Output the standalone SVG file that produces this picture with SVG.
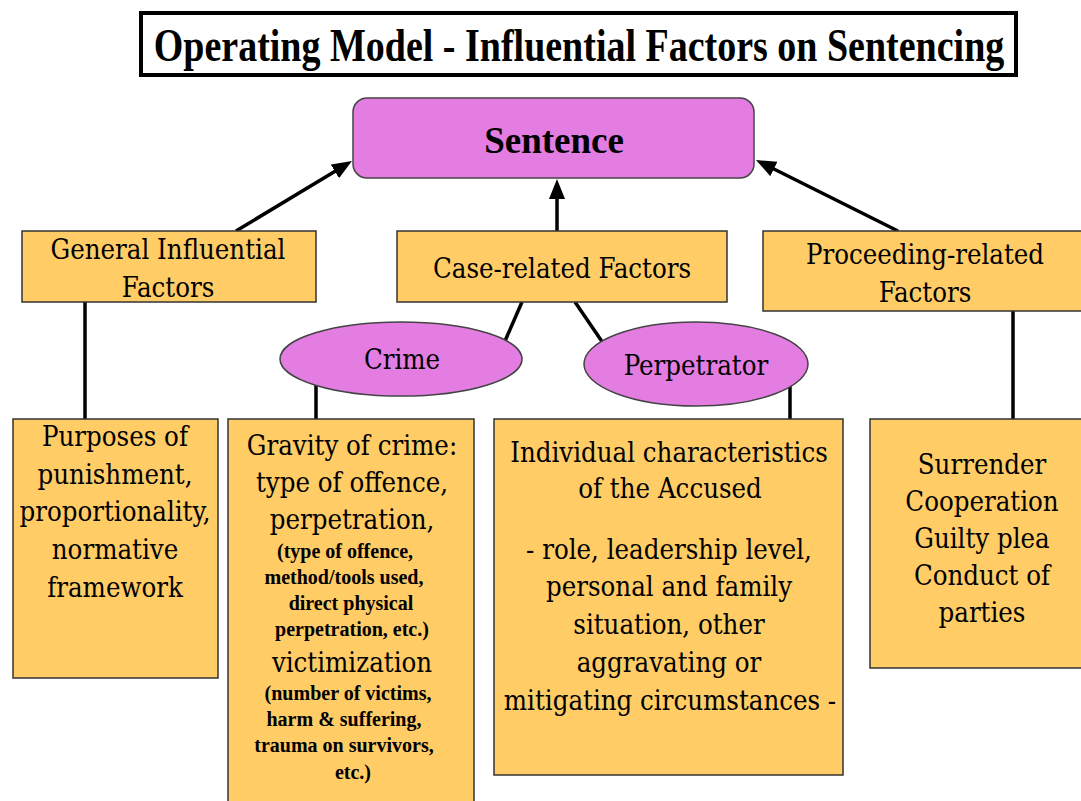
<svg xmlns="http://www.w3.org/2000/svg" width="1081" height="801" viewBox="0 0 1081 801">
<style>
.box{fill:#FFCC66;stroke:#333333;stroke-width:1.5}
.pink{fill:#E47DE2;stroke:#444444;stroke-width:1.5}
text{font-family:'Liberation Serif','Times New Roman',serif;fill:#000;text-anchor:middle}
.t{font-family:'DejaVu Serif Condensed','DejaVu Serif',serif;font-size:27.3px}
.s{font-size:20px;font-weight:bold}
.b{font-weight:bold}
.c{stroke:#000;stroke-width:3.5;fill:none}
</style>
<defs>
<marker id="ah" markerUnits="userSpaceOnUse" markerWidth="22" markerHeight="18" refX="10" refY="8" orient="auto">
<path d="M0,0 L20,8 L0,16 z" fill="#000"/>
</marker>
</defs>
<rect width="1081" height="801" fill="#fff"/>
<g id="title">
<rect x="141" y="13" width="875" height="62" fill="#fff" stroke="#000" stroke-width="4"/>
<text class="b" transform="translate(579,61) scale(1,1.22)" x="0" y="0" font-size="38">Operating Model - Influential Factors on Sentencing</text>
</g>
<g id="connectors">
<line class="c" x1="236" y1="231" x2="343.4" y2="166.2" marker-end="url(#ah)"/>
<line class="c" x1="557" y1="231" x2="557" y2="189" marker-end="url(#ah)"/>
<line class="c" x1="898" y1="231" x2="764.9" y2="164.5" marker-end="url(#ah)"/>
<line class="c" x1="85" y1="302" x2="85" y2="419"/>
<line class="c" x1="1013" y1="311" x2="1013" y2="419"/>
<line class="c" x1="522" y1="302" x2="505" y2="341"/>
<line class="c" x1="575" y1="302" x2="603" y2="343"/>
<line class="c" x1="316" y1="380" x2="316" y2="419"/>
<line class="c" x1="790" y1="380" x2="790" y2="419"/>
</g>
<g id="sentence">
<rect class="pink" x="353" y="98" width="401" height="80" rx="14"/>
<text class="b" x="554" y="153" font-size="37">Sentence</text>
</g>
<g id="general">
<rect class="box" x="22" y="231" width="294" height="71"/>
<text class="t" x="168" y="259">General Influential</text>
<text class="t" x="168" y="297">Factors</text>
</g>
<g id="case">
<rect class="box" x="397" y="231" width="330" height="71"/>
<text class="t" x="562" y="278">Case-related Factors</text>
</g>
<g id="proceeding">
<rect class="box" x="763" y="231" width="330" height="80"/>
<text class="t" x="925" y="264">Proceeding-related</text>
<text class="t" x="925" y="302">Factors</text>
</g>
<g id="crime">
<ellipse class="pink" cx="401" cy="359" rx="121" ry="37"/>
<text class="t" x="402" y="369">Crime</text>
</g>
<g id="perpetrator">
<ellipse class="pink" cx="696" cy="364" rx="112" ry="42"/>
<text class="t" x="696" y="375">Perpetrator</text>
</g>
<g id="purposes">
<rect class="box" x="13" y="419" width="205" height="259"/>
<text class="t" x="115" y="446">Purposes of</text>
<text class="t" x="115" y="484">punishment,</text>
<text class="t" x="115" y="521">proportionality,</text>
<text class="t" x="115" y="559">normative</text>
<text class="t" x="115" y="597">framework</text>
</g>
<g id="gravity">
<rect class="box" x="228" y="419" width="246" height="390"/>
<text class="t" x="352" y="455">Gravity of crime:</text>
<text class="t" x="352" y="492">type of offence,</text>
<text class="t" x="352" y="529">perpetration,</text>
<text class="s" x="345" y="558">(type of offence,</text>
<text class="s" x="344" y="584">method/tools used,</text>
<text class="s" x="351" y="610">direct physical</text>
<text class="s" x="352" y="636">perpetration, etc.)</text>
<text class="t" x="352" y="672">victimization</text>
<text class="s" x="348" y="700">(number of victims,</text>
<text class="s" x="344" y="726">harm &amp; suffering,</text>
<text class="s" x="344" y="752">trauma on survivors,</text>
<text class="s" x="353" y="779">etc.)</text>
</g>
<g id="individual">
<rect class="box" x="494" y="419" width="349" height="356"/>
<text class="t" x="669" y="462">Individual characteristics</text>
<text class="t" x="670" y="498">of the Accused</text>
<text class="t" x="669" y="559">- role, leadership level,</text>
<text class="t" x="669" y="596">personal and family</text>
<text class="t" x="669" y="634">situation, other</text>
<text class="t" x="669" y="672">aggravating or</text>
<text class="t" x="670" y="710">mitigating circumstances -</text>
</g>
<g id="surrender">
<rect class="box" x="870" y="419" width="225" height="249"/>
<text class="t" x="982" y="474">Surrender</text>
<text class="t" x="982" y="511">Cooperation</text>
<text class="t" x="982" y="548">Guilty plea</text>
<text class="t" x="982" y="585">Conduct of</text>
<text class="t" x="982" y="622">parties</text>
</g>
</svg>
